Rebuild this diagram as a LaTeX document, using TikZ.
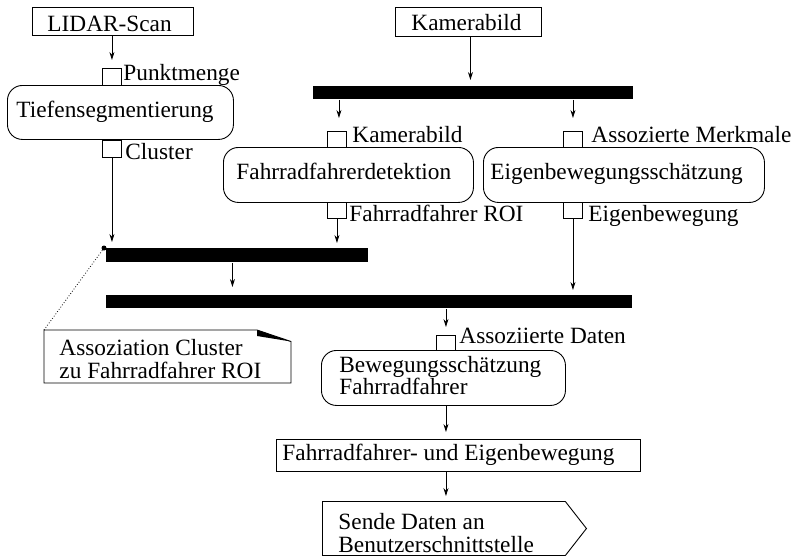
\documentclass[tikz,border=0pt]{standalone}
\usepackage{fontspec}
\setmainfont{Liberation Serif}
\usetikzlibrary{arrows.meta,shapes.symbols}
\begin{document}
\begin{tikzpicture}[x=1pt,y=-1pt,
  line width=0.9pt,
  every node/.style={font=\fontsize{23.3}{22.5}\selectfont, inner sep=0pt},
  frame/.style={draw, rectangle, anchor=north west},
  action/.style={frame, rounded corners=15pt},
  pinbox/.style={draw, rectangle, anchor=north west, minimum width=19pt},
  bar/.style={fill=black, rectangle, anchor=north west},
  lbl/.style={anchor=base west},
  multi/.style={anchor=north west, align=left},
  arr/.style={-{Stealth[length=8pt,width=5pt]}},
]
\useasboundingbox (0,0) rectangle (798,557);

% inputs
\node[frame, minimum width=161pt, minimum height=28pt] (lidar) at (32,7) {};
\node[frame, minimum width=146pt, minimum height=29pt] (kam) at (395,7) {};

% actions
\node[action, minimum width=226pt, minimum height=54pt] (tiefen) at (7,85) {};
\node[action, minimum width=250pt, minimum height=55pt] (fahr) at (223,147) {};
\node[action, minimum width=281pt, minimum height=55pt] (eigen) at (483,147) {};
\node[action, minimum width=244pt, minimum height=55pt] (bew) at (321,350) {};
\node[frame, minimum width=364pt, minimum height=32pt] (out) at (276,439) {};
\node[draw, signal, signal to=east, signal pointer angle=104,
      minimum width=264pt, minimum height=54pt, anchor=west] (send) at (322,528.5) {};

% pins
\node[pinbox, minimum height=17pt] (pinP) at (102,68) {};
\node[pinbox, minimum height=17pt] (pinC) at (102,140) {};
\node[pinbox, minimum height=16pt] (pinK) at (327,131) {};
\node[pinbox, minimum height=16pt] (pinA) at (563,131) {};
\node[pinbox, minimum height=16pt] (pinR) at (327,202) {};
\node[pinbox, minimum height=16pt] (pinE) at (563,202) {};
\node[pinbox, minimum height=15pt] (pinD) at (436,335) {};

% fork / join bars
\node[bar, minimum width=320pt, minimum height=13pt] (bartop) at (313,86) {};
\node[bar, minimum width=262pt, minimum height=14pt] (bar1) at (106,248) {};
\node[bar, minimum width=526pt, minimum height=13pt] (bar2) at (106,295) {};

% texts
\node[lbl] (tLidar) at (47,31) {LIDAR-Scan};
\node[lbl] (tKam) at (411,30) {Kamerabild};
\node[lbl] (tTief) at (16,117) {Tiefensegmentierung};
\node[lbl] (tFahr) at (236,179.5) {Fahrradfahrerdetektion};
\node[lbl] (tEigen) at (490,179) {Eigenbewegungsschätzung};
\node[lbl] (tOut) at (282,460) {Fahrradfahrer- und Eigenbewegung};
\node[multi] (tBew) at (339,355.7) {Bewegungsschätzung\\Fahrradfahrer};
\node[multi] (tSend) at (338,513) {Sende Daten an\\Benutzerschnittstelle};

% pin labels
\node[lbl] (lP) at (123,80) {Punktmenge};
\node[lbl] (lC) at (125,159) {Cluster};
\node[lbl] (lK) at (352,142) {Kamerabild};
\node[lbl] (lA) at (591,142) {Assozierte Merkmale};
\node[lbl] (lR) at (349,221.5) {Fahrradfahrer ROI};
\node[lbl] (lE) at (588,221) {Eigenbewegung};
\node[lbl] (lD) at (459,343) {Assoziierte Daten};

% note
\coordinate (noteNW) at (44,330);
\draw (noteNW) -- (257,330) -- (291,341.5) -- (291,383) -- (44,383) -- cycle;
\fill (257,330) -- (291,341.5) -- (257,336) -- cycle;
\node[multi] (tNote) at (59,339) {Assoziation Cluster\\zu Fahrradfahrer ROI};
\node[circle, fill, minimum size=5pt] (dot) at (104,248) {};
\draw[dotted, line width=0.8pt] (dot.center) -- (noteNW);

% flows
\draw[arr, shorten >=8pt] (lidar.south -| pinP.north) -- (pinP.north);
\draw[arr, shorten >=6pt] ([xshift=2pt]kam.south) -- ([xshift=2pt]kam.south |- bartop.north);
\draw[arr, shorten >=13pt] ([xshift=2pt]pinK.north |- bartop.south) -- ([xshift=2pt]pinK.north);
\draw[arr, shorten >=13pt] (pinA.north |- bartop.south) -- (pinA.north);
\draw[arr, shorten >=6pt] (pinC.south) -- (pinC.south |- bar1.north);
\draw[arr, shorten >=5pt] (pinR.south) -- (pinR.south |- bar1.north);
\draw[arr, shorten >=8pt] ([xshift=-5pt]bar1.south) -- ([xshift=-5pt]bar1.south |- bar2.north);
\draw[arr, shorten >=5pt] (pinE.south) -- (pinE.south |- bar2.north);
\draw[arr, shorten >=8pt] (pinD.north |- bar2.south) -- (pinD.north);
\draw[arr, shorten >=7pt] (bew.south -| pinD.south) -- (pinD.south |- out.north);
\draw[arr, shorten >=5pt] (out.south -| pinD.south) -- (pinD.south |- send.north);
\end{tikzpicture}
\end{document}
